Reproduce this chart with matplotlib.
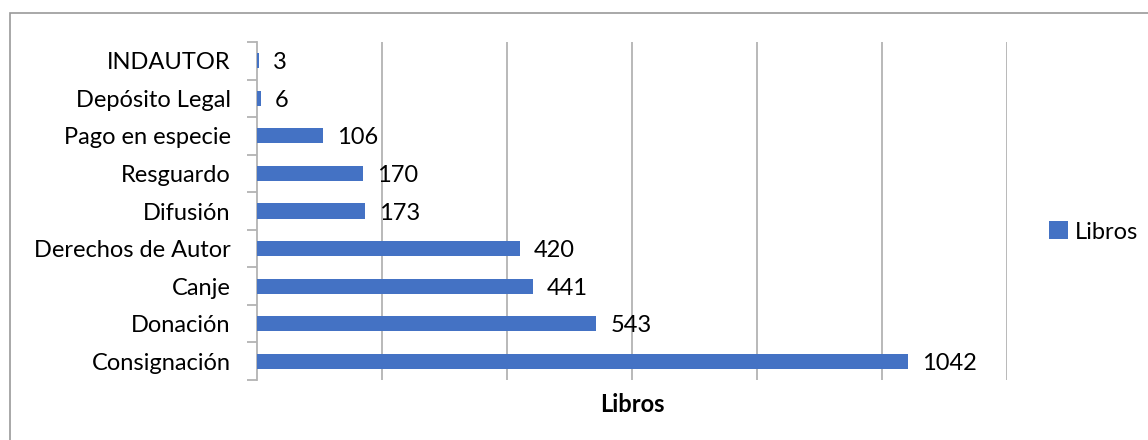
import matplotlib
matplotlib.use("Agg")
import matplotlib.pyplot as plt
from matplotlib.patches import Rectangle
from matplotlib.ticker import FixedLocator
import numpy as np

categories = [
    "Consignación",
    "Donación",
    "Canje",
    "Derechos de Autor",
    "Difusión",
    "Resguardo",
    "Pago en especie",
    "Depósito Legal",
    "INDAUTOR",
]
libros = [1042, 543, 441, 420, 173, 170, 106, 6, 3]
series_name = "Libros"

BAR_COLOR = "#4472C4"
GRID_COLOR = "#B3B3B3"
FS = 17

plt.rcParams["font.family"] = ["Lato", "DejaVu Sans"]

fig = plt.figure(figsize=(11.48, 4.40), dpi=100)
ax = fig.add_axes([257 / 1148, 1 - 380 / 440, 750 / 1148, 338 / 440])

y = np.arange(len(categories))
bars = ax.barh(y, libros, height=0.4, color=BAR_COLOR, label=series_name, zorder=3)

for rect, val in zip(bars, libros):
    ax.annotate(
        str(val),
        xy=(rect.get_width(), rect.get_y() + rect.get_height() / 2),
        xytext=(10, -1.5),
        textcoords="offset points",
        va="center",
        ha="left",
        fontsize=FS,
        color="#000000",
    )

ax.set_xlim(0, 1200)
ax.set_ylim(-0.5, len(categories) - 0.5)
ax.xaxis.set_major_locator(FixedLocator(np.arange(200, 1201, 200)))
ax.tick_params(axis="x", length=0, labelbottom=False)
ax.grid(axis="x", color=GRID_COLOR, linewidth=1.3, zorder=0)

ax.set_yticks(y)
ax.set_yticklabels(categories, fontsize=FS)
ax.yaxis.set_minor_locator(FixedLocator(np.arange(-0.5, len(categories), 1.0)))
ax.tick_params(axis="y", which="major", length=0, pad=19)
ax.tick_params(axis="y", which="minor", length=7, color=GRID_COLOR, width=1.3)

for side in ["top", "right", "bottom"]:
    ax.spines[side].set_visible(False)
ax.spines["left"].set_color(GRID_COLOR)
ax.spines["left"].set_linewidth(1.3)

ax.set_xlabel(series_name, fontsize=FS, fontweight="bold", labelpad=9)

fig.legend(
    loc="center left",
    bbox_to_anchor=(1049 / 1148, 1 - 232 / 440),
    frameon=False,
    fontsize=FS,
    borderpad=0,
    borderaxespad=0,
    handlelength=0.8,
    handleheight=0.8,
    handletextpad=0.3,
)

# outer chart border (right and bottom edges fall outside the image)
fig.patches.append(
    Rectangle((10 / 1148, -0.1), 1.2, 1 - 13 / 440 + 0.1, transform=fig.transFigure,
              fill=False, edgecolor="#999999", linewidth=1.2)
)

fig.savefig("out.png", dpi=100)
